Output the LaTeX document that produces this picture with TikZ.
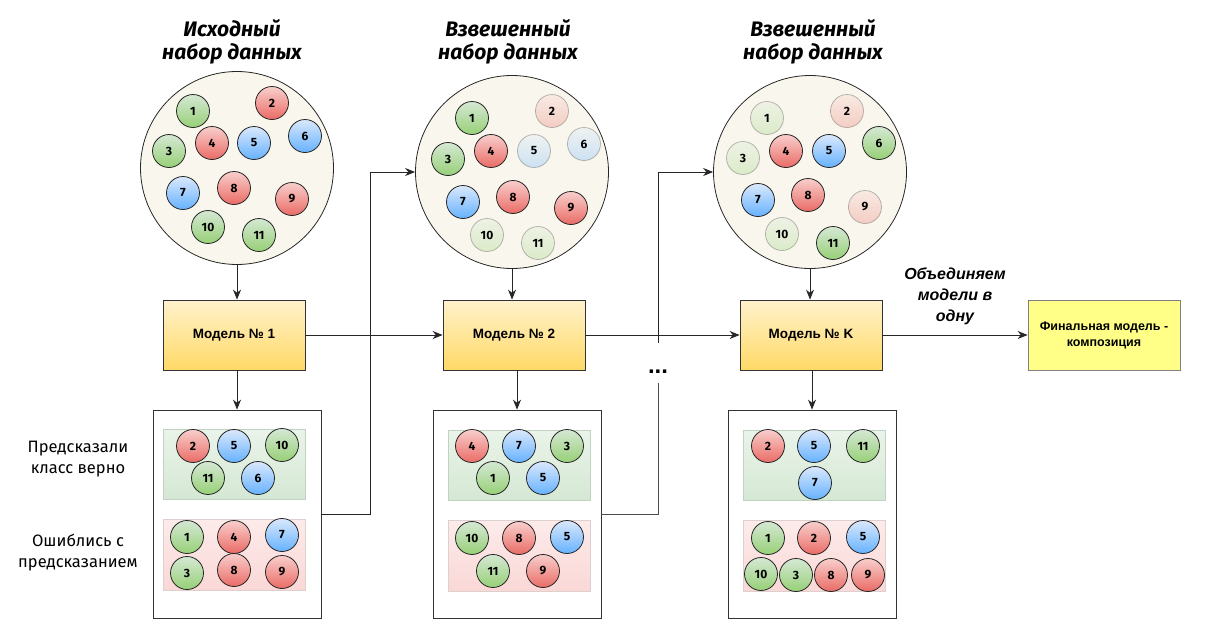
\documentclass[tikz,border=0pt]{standalone}
\usepackage{fontspec}
\setmainfont{Liberation Sans}
\newfontfamily\comicfont{Fira Sans}
\usepackage{xcolor}
\usetikzlibrary{arrows.meta}

\definecolor{grT}{HTML}{D5E8D4}
\definecolor{grB}{HTML}{97D077}
\definecolor{rdT}{HTML}{F8CECC}
\definecolor{rdB}{HTML}{EA6B66}
\definecolor{blT}{HTML}{DAE8FC}
\definecolor{blB}{HTML}{66B2FF}
\definecolor{ylT}{HTML}{FFF2CC}
\definecolor{ylB}{HTML}{FFD966}
\definecolor{sand}{HTML}{F9F7ED}
\definecolor{finfill}{HTML}{FFFF88}

\begin{document}
\begin{tikzpicture}[x=1pt, y=-1pt,
    pt/.style={circle, draw=black!85, line width=0.8pt, minimum size=33pt, inner sep=0pt,
        font=\comicfont\bfseries\fontsize{12}{12}\selectfont},
    gr/.style={pt, top color=grT, bottom color=grB},
    rd/.style={pt, top color=rdT, bottom color=rdB},
    bl/.style={pt, top color=blT, bottom color=blB},
    faded/.style={fill opacity=0.3, draw opacity=0.3, text opacity=1},
    grf/.style={gr, faded},
    rdf/.style={rd, faded},
    blf/.style={bl, faded},
    dataset/.style={circle, draw=black!85, line width=0.8pt, fill=sand, minimum size=193pt},
    title/.style={align=center, font=\comicfont\bfseries\itshape\fontsize{21}{23}\selectfont},
    model/.style={draw=black!80, line width=0.8pt, top color=ylT, bottom color=ylB,
        minimum width=142pt, minimum height=70pt, font=\bfseries\fontsize{13.5}{15}\selectfont},
    result/.style={draw=black!80, line width=0.8pt, fill=white, minimum width=168pt, minimum height=208pt},
    okpanel/.style={draw=grT!80!green!60!black!40, line width=0.6pt, top color=grT!50, bottom color=grT,
        minimum width=142pt, minimum height=70pt},
    errpanel/.style={draw=rdT!80!red!60!black!30, line width=0.6pt, top color=rdT!40, bottom color=rdT!80,
        minimum width=142pt, minimum height=71pt},
    side/.style={align=center, font=\comicfont\fontsize{16.5}{21}\selectfont},
    arr/.style={-{Stealth[length=10pt, width=8pt]}, line width=0.8pt, draw=black!85},
    link/.style={line width=0.8pt, draw=black!70}]
    \useasboundingbox (0,0) rectangle (1206,643);

    % titles
    \node[title] (t1) at (232,42) {Исходный\\набор данных};
    \node[title] (t2) at (508,42) {Взвешенный\\набор данных};
    \node[title] (t3) at (813,42) {Взвешенный\\набор данных};

    % datasets
    \node[dataset] (ds1) at (237,168) {};
    \node[dataset] (ds2) at (512,172) {};
    \node[dataset] (ds3) at (810,172) {};
    \foreach \n/\x/\y/\c in {1/193/111/gr, 2/272/103/rd, 3/169/151/gr, 4/212/143/rd, 5/254/143/bl,
        6/305/136/bl, 7/183/193/bl, 8/234/188/rd, 9/292/199/rd, 10/208/227/gr, 11/259/235/gr}
        \node[\c] (a\n) at (\x,\y) {\n};
    \foreach \n/\x/\y/\c in {1/472/118/gr, 2/552/111/rdf, 3/448/159/gr, 4/491/151/rd, 5/534/151/blf,
        6/584/144/blf, 7/463/202/bl, 8/513/197/rd, 9/571/208/rd, 10/487/235/grf, 11/538/243/grf}
        \node[\c] (b\n) at (\x,\y) {\n};
    \foreach \n/\x/\y/\c in {1/767/118/grf, 2/847/111/rdf, 3/743/158/grf, 4/786/151/rd, 5/829/151/bl,
        6/879/143/gr, 7/758/200/bl, 8/808/195/rd, 9/865/207/rdf, 10/782/234/grf, 11/833/243/gr}
        \node[\c] (c\n) at (\x,\y) {\n};

    % models
    \node[model] (m1) at (234,335) {Модель № 1};
    \node[model] (m2) at (514,335) {Модель № 2};
    \node[model] (mk) at (811,335) {Модель № K};
    \node[draw=black!50, line width=0.8pt, fill=finfill, minimum width=152pt, minimum height=70pt,
        align=center, font=\bfseries\fontsize{12.5}{16}\selectfont] (fin) at (1104,335)
        {Финальная модель -\\композиция};

    % results
    \node[result] (r1) at (237,514) {};
    \node[result] (r2) at (517,514) {};
    \node[result] (r3) at (812,514) {};
    \node[okpanel] (g1) at (234,464) {};
    \node[errpanel] (e1) at (234,554.5) {};
    \node[okpanel] (g2) at (519,465) {};
    \node[errpanel] (e2) at (519,555.5) {};
    \node[okpanel] (g3) at (814.5,465.5) {};
    \node[errpanel] (e3) at (814.5,556) {};
    \foreach \n/\x/\y/\c in {2/193/446/rd, 5/234/446/bl, 10/282/445/gr, 11/208/478/gr, 6/258/478/bl}
        \node[\c] (g1-\n) at (\x,\y) {\n};
    \foreach \n/\x/\y/\c in {1/187/537/gr, 4/234/537/rd, 7/282/535/bl, 3/187/573/gr, 8/234/570/rd, 9/282/572/rd}
        \node[\c] (e1-\n) at (\x,\y) {\n};
    \foreach \n/\x/\y/\c in {4/472/446/rd, 7/519/446/bl, 3/567/446/gr, 1/493/478/gr, 5/543/478/bl}
        \node[\c] (g2-\n) at (\x,\y) {\n};
    \foreach \n/\x/\y/\c in {10/472/538/gr, 8/519/538/rd, 5/567/537/bl, 11/493/571/gr, 9/543/571/rd}
        \node[\c] (e2-\n) at (\x,\y) {\n};
    \foreach \n/\x/\y/\c in {2/768/446/rd, 5/814/446/bl, 11/863/446/gr, 7/815/483/bl}
        \node[\c] (g3-\n) at (\x,\y) {\n};
    \foreach \n/\x/\y/\c in {1/768/538/gr, 2/814/538/rd, 5/863/537/bl, 10/761/574/gr, 3/796/575/gr,
        8/831/575/rd, 9/868/575/rd}
        \node[\c] (e3-\n) at (\x,\y) {\n};

    \node[side] (ok) at (78,459) {Предсказали\\класс верно};
    \node[side] (err) at (78,553) {Ошиблись с\\предсказанием};

    % connectors
    \draw[arr] (ds1.south) -- (ds1.south |- m1.north);
    \draw[arr] (ds2.south) -- (ds2.south |- m2.north);
    \draw[arr] (ds3.south) -- (ds3.south |- mk.north);
    \draw[arr] (m1.south -| r1.north) -- (r1.north);
    \draw[arr] (m2.south -| r2.north) -- (r2.north);
    \draw[arr] (mk.south -| r3.north) -- (r3.north);
    \draw[arr] (r1.east) -- ++(49,0) |- (ds2.west);
    \draw[arr] (m1) -- (m2);
    \draw[arr] (m2) -- (mk);
    \node[anchor=base, inner sep=0pt, text height=30pt, text depth=10pt,
        font=\bfseries\fontsize{24}{24}\selectfont] (dots) at (658,373) {...};
    \draw[link] (r2.east) -| (dots.south);
    \draw[arr] (dots.north) |- (ds3.west);
    \draw[arr] (mk) -- (fin) node[midway, above=6pt, align=center,
        font=\bfseries\itshape\fontsize{16}{21}\selectfont] (join) {Объединяем\\модели в\\одну};
\end{tikzpicture}
\end{document}
